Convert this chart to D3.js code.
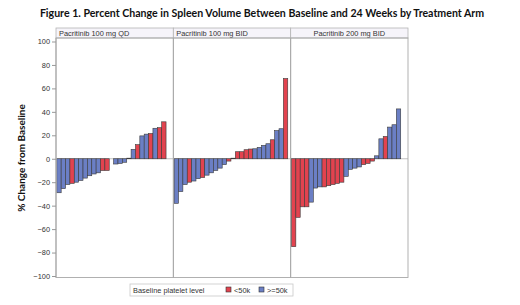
<!DOCTYPE html>
<html><head><meta charset="utf-8">
<script src="https://cdn.jsdelivr.net/npm/d3@7"></script>
<style>html,body{margin:0;padding:0;background:#fff;}svg{display:block;}</style>
</head><body>
<svg id="chart" width="520" height="305"></svg>
<script>
const titleText = "Figure 1. Percent Change in Spleen Volume Between Baseline and 24 Weeks by Treatment Arm";
const panelNames = ["Pacritinib 100 mg QD", "Pacritinib 100 mg BID", "Pacritinib 200 mg BID"];
const panelAlign = ["start", "start", "middle"];
const yTicks = [-100, -80, -60, -40, -20, 0, 20, 40, 60, 80, 100];
const legendTitle = "Baseline platelet level";
const groupKeys = ["lo", "hi"];
const groupLabels = ["<50k", ">=50k"];

const qdValues = [-29,-25.5,-22,-21,-20,-18.5,-16.5,-14.5,-13,-12,-10,-10,null,-4.5,-4,-3,0.5,8,12,19.5,21,21.5,26,26.5,31.5];
const qdGroups = ["hi","hi","hi","lo","hi","hi","hi","hi","hi","hi","lo","lo",null,"hi","hi","hi","hi","hi","lo","hi","hi","lo","hi","lo","lo"];

const bid100Values = [-38,-28,-22,-20,-19,-17,-16,-14,-12,-10,-8,-5,-2,0.5,6,6,7.7,8.3,8.5,9.7,11.4,12.8,16.2,24,25.6,68.4];
const bid100Groups = ["hi","hi","hi","lo","hi","hi","lo","hi","hi","hi","hi","hi","lo","hi","lo","lo","lo","lo","hi","hi","hi","hi","lo","hi","hi","lo"];

const bid200Values = [-75,-50,-41,-41,-37,-25,-24,-24,-23,-22,-21,-20,-15,-9,-8,-7,-5,-4,-2,2.5,17,19,27,29,42.5];
const bid200Groups = ["lo","lo","lo","lo","hi","hi","hi","lo","lo","lo","lo","lo","hi","hi","hi","hi","lo","lo","lo","hi","hi","lo","hi","hi","hi"];

const panelValues = [qdValues, bid100Values, bid200Values];
const panelGroups = [qdGroups, bid100Groups, bid200Groups];

const svg = d3.select("#chart");
const W = 520, H = 305;
const plotL = 56, plotR = 408, plotT = 38, plotB = 277.5, headT = 28;
const colors = d3.scaleOrdinal().domain(groupKeys).range(["#e2434f", "#6b7fc5"]);
const y = d3.scaleLinear().domain([-100, 100]).range([276, 41.5]);
const panelX = d3.scaleBand().domain(d3.range(3)).range([plotL, plotR]).padding(0);
const step = 4.37;

// title
svg.append("text").attr("x", 262).attr("y", 17).attr("text-anchor", "middle")
  .attr("font-family", "Lato, 'Open Sans', sans-serif").attr("font-weight", "bold")
  .attr("font-size", 10.6).attr("fill", "#111").text(titleText);

// panels
panelNames.forEach((name, p) => {
  const x0 = panelX(p), pw = panelX.bandwidth();
  const g = svg.append("g");
  // header
  g.append("rect").attr("x", x0).attr("y", headT).attr("width", pw).attr("height", plotT - headT)
    .attr("fill", "#f6f4fa").attr("stroke", "#b5b5b5").attr("stroke-width", 0.8);
  g.append("text")
    .attr("x", panelAlign[p] === "middle" ? x0 + pw / 2 : x0 + 3)
    .attr("y", headT + 7.6).attr("text-anchor", panelAlign[p])
    .attr("font-family", "'Liberation Sans', Arial, sans-serif").attr("font-size", 7.4)
    .attr("fill", "#333").text(name);
  // zero reference line
  g.append("line").attr("x1", x0).attr("x2", x0 + pw).attr("y1", y(0)).attr("y2", y(0))
    .attr("stroke", "#b0b0b0").attr("stroke-width", 0.8);
  const vals = panelValues[p], grps = panelGroups[p];
  const xs = d3.scaleBand().domain(d3.range(vals.length))
    .range([x0 + 0.8, x0 + 0.8 + vals.length * step]).padding(0);
  const idx = d3.range(vals.length).filter(i => vals[i] !== null);
  g.selectAll("rect.bar").data(idx).join("rect").attr("class", "bar")
    .attr("x", i => xs(i)).attr("width", xs.bandwidth())
    .attr("y", i => y(Math.max(0, vals[i])))
    .attr("height", i => Math.abs(y(vals[i]) - y(0)))
    .attr("fill", i => colors(grps[i]))
    .attr("stroke", "#3a3a3a").attr("stroke-width", 0.6);
  // panel frame
  g.append("rect").attr("x", x0).attr("y", plotT).attr("width", pw).attr("height", plotB - plotT)
    .attr("fill", "none").attr("stroke", "#a8a8a8").attr("stroke-width", 0.9);
});

// y axis
const yAxis = d3.axisLeft(y).tickValues(yTicks).tickSize(4).tickPadding(2).tickFormat(d3.format("d"));
const ag = svg.append("g").attr("transform", `translate(${plotL},0)`).call(yAxis);
ag.select(".domain").attr("stroke", "#a8a8a8").attr("d", `M0,${plotT}V${plotB}`);
ag.selectAll(".tick line").attr("stroke", "#999");
ag.selectAll(".tick text").attr("font-family", "'Liberation Sans', Arial, sans-serif")
  .attr("font-size", 7.4).attr("fill", "#333");

// y label
svg.append("text").attr("transform", `translate(25,158) rotate(-90)`).attr("text-anchor", "middle")
  .attr("font-family", "Lato, 'Open Sans', sans-serif").attr("font-weight", "bold")
  .attr("font-size", 10).attr("fill", "#111").text("% Change from Baseline");

// legend
const lg = svg.append("g");
lg.append("rect").attr("x", 130).attr("y", 284).attr("width", 163).attr("height", 12)
  .attr("fill", "#fff").attr("stroke", "#c8c8c8").attr("stroke-width", 0.8);
lg.append("text").attr("x", 133).attr("y", 293).attr("font-family", "'Liberation Sans', Arial, sans-serif")
  .attr("font-size", 7.4).attr("fill", "#333").text(legendTitle);
const lx = [226, 259];
groupKeys.forEach((k, i) => {
  lg.append("rect").attr("x", lx[i]).attr("y", 287).attr("width", 5).attr("height", 5)
    .attr("fill", colors(k)).attr("stroke", "#333").attr("stroke-width", 0.6);
  lg.append("text").attr("x", lx[i] + 8).attr("y", 293).attr("font-family", "'Liberation Sans', Arial, sans-serif")
    .attr("font-size", 7.4).attr("fill", "#333").text(groupLabels[i]);
});
</script>
</body></html>
